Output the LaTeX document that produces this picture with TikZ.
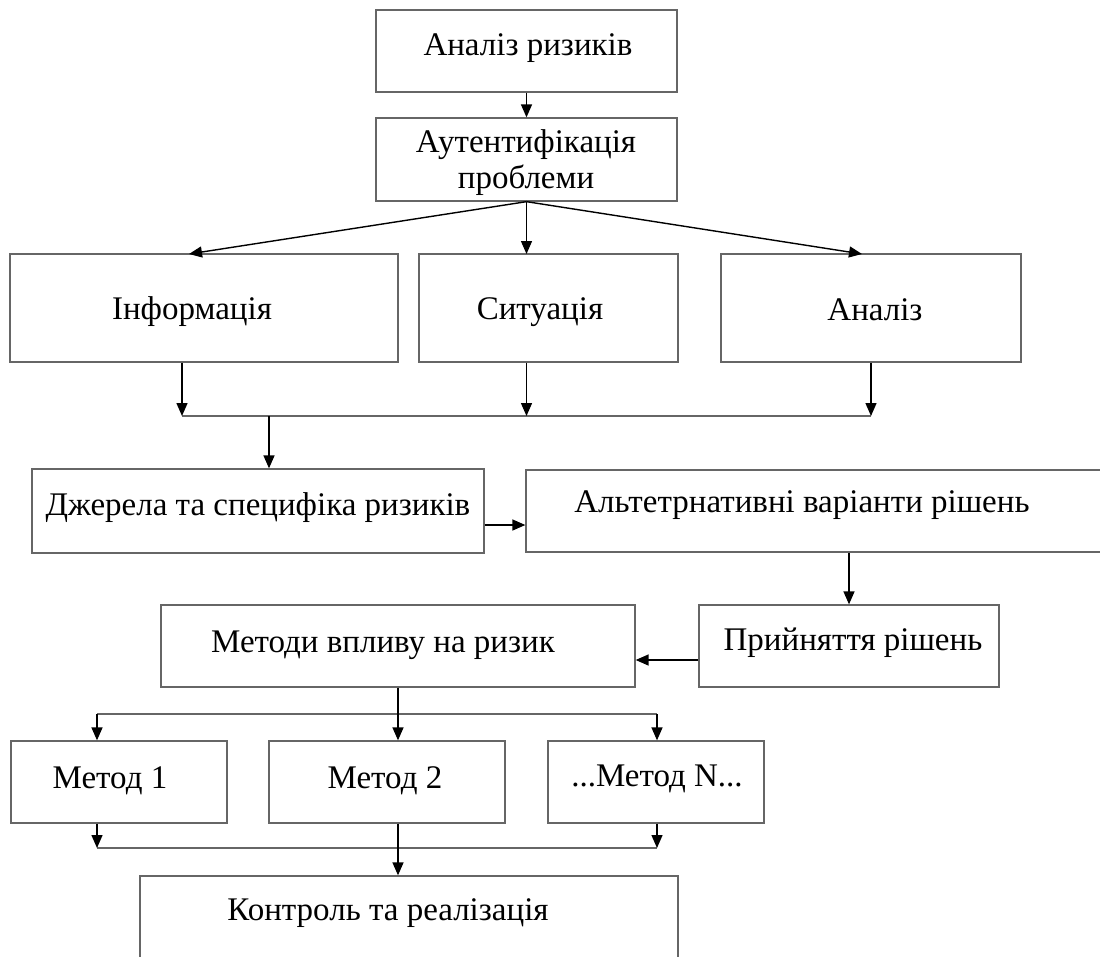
\documentclass[tikz,border=0pt]{standalone}
\usepackage{fontspec}
\setmainfont{Liberation Serif}
\usetikzlibrary{arrows.meta,calc}
\tikzset{
  box/.style={draw=black!60, line width=1.3pt, fill=white, rectangle, inner sep=0pt},
  txt/.style={anchor=base, inner sep=0pt, font=\fontsize{33}{36}\selectfont, align=center},
  arr/.style={draw=black, line width=1.4pt, -{Triangle[length=13pt,width=11pt]}},
  bus/.style={draw=black!60, line width=1.5pt}
}
\newcommand{\mybox}[5]{%
  \node[box, minimum width={(#4-#2)*1pt}, minimum height={(#5-#3)*1pt}] (#1) at ({(#2+#4)/2},{(#3+#5)/2}) {};}
\begin{document}
\begin{tikzpicture}[x=1pt,y=-1pt]
\useasboundingbox (0,0) rectangle (1100,956);
% boxes
\mybox{b1}{376}{10}{677}{92}
\mybox{b2}{376}{118}{677}{201}
\mybox{b3}{10}{254}{398}{362}
\mybox{b4}{419}{254}{678}{362}
\mybox{b5}{721}{254}{1021}{362}
\mybox{b6}{32}{469}{484}{553}
\mybox{b7}{526}{470}{1104}{552}
\mybox{b8}{699}{605}{999}{687}
\mybox{b9}{161}{605}{635}{687}
\mybox{b10}{11}{741}{227}{823}
\mybox{b11}{269}{741}{505}{823}
\mybox{b12}{548}{741}{764}{823}
\mybox{b13}{140}{876}{678}{962}
% texts
\node[txt] (t1) at (528,55) {Аналіз ризиків};
\node[txt] (t2) at (526,188) {Аутентифікація\\проблеми};
\node[txt] (t3) at (192,319) {Інформація};
\node[txt] (t4) at (540,319) {Ситуація};
\node[txt] (t5) at (875,320) {Аналіз};
\node[txt] (t6) at (258,515) {Джерела та специфіка ризиків};
\node[txt] (t7) at (802,512) {Альтетрнативні варіанти рішень};
\node[txt] (t8) at (853,650) {Прийняття рішень};
\node[txt] (t9) at (383,652) {Методи впливу на ризик};
\node[txt] (t10) at (110,788) {Метод 1};
\node[txt] (t11) at (385,788) {Метод 2};
\node[txt] (t12) at (657,786) {...Метод N...};
\node[txt] (t13) at (388,920) {Контроль та реалізація};
% coordinates
\coordinate (f3) at (189,254);
\coordinate (f4) at (526.5,254);
\coordinate (f5) at (862,254);
\coordinate (j3) at (182,416);
\coordinate (j4) at (526.5,416);
\coordinate (j5) at (871,416);
\coordinate (j6) at (269,416);
\coordinate (k9) at (398,714);
\coordinate (k10) at (97,714);
\coordinate (k12) at (657,714);
\coordinate (m10) at (97,848);
\coordinate (m12) at (657,848);
% connectors
\draw[arr] (b1.south) -- (b2.north);
\draw[arr] (b2.south) -- (f3);
\draw[arr] (b2.south) -- (f4);
\draw[arr] (b2.south) -- (f5);
\draw[bus] (j3) -- (j5);
\draw[arr] (b3.south -| j3) -- (j3);
\draw[arr] (b4.south -| j4) -- (j4);
\draw[arr] (b5.south -| j5) -- (j5);
\draw[arr] (j6) -- (b6.north -| j6);
\draw[arr] ($(b6.east)+(0,14)$) -- ($(b7.west)+(0,14)$);
\draw[arr] (b7.south -| b8.north) -- (b8.north);
\draw[arr] ($(b8.west)+(0,14)$) -- ($(b9.east)+(0,14)$);
\draw[bus] (k10) -- (k12);
\draw[arr] (b9.south -| k9) -- (b11.north -| k9);
\draw[arr] (k10) -- (b10.north -| k10);
\draw[arr] (k12) -- (b12.north -| k12);
\draw[bus] (m10) -- (m12);
\draw[arr] (b10.south -| m10) -- (m10);
\draw[arr] (b12.south -| m12) -- (m12);
\draw[arr] (b11.south -| k9) -- (b13.north -| k9);
\end{tikzpicture}
\end{document}
